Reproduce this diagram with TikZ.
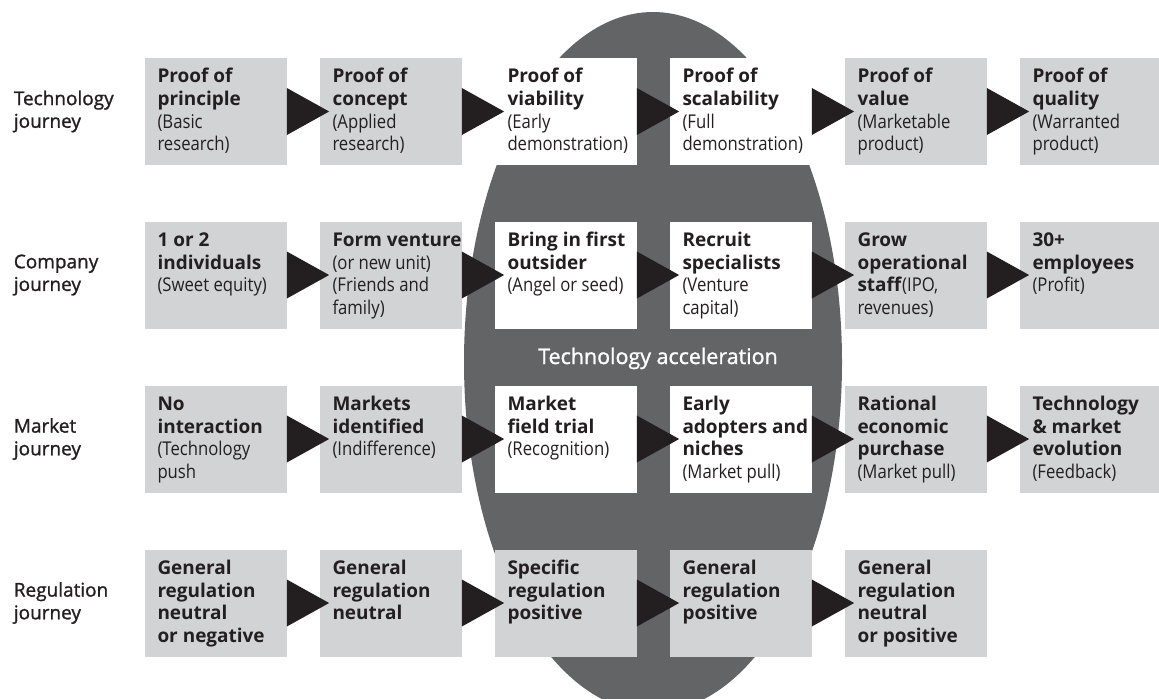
\documentclass[tikz,border=0pt]{standalone}
\usepackage{fontspec}
\setmainfont{Open Sans}
\newfontfamily\lightfont{Open Sans}[FakeStretch=0.88]
\newfontfamily\labelfont{Open Sans}[FakeBold=1.2]
\usepackage{tikz}
\usetikzlibrary{calc}
\definecolor{boxgray}{RGB}{209,211,212}
\definecolor{accelgray}{RGB}{99,100,102}
\definecolor{inkblack}{RGB}{35,31,32}
\newcommand{\lightpart}[1]{{\lightfont #1}}
\newcommand{\stagetext}[1]{\parbox[c][2.14cm][t]{2.84cm}{\fontsize{10.8pt}{12.9pt}\selectfont\raggedright\leftskip=0.26cm\rule{0pt}{14.2pt}#1}}

\begin{document}
\begin{tikzpicture}[font=\fontsize{10.8pt}{12.9pt}\selectfont,text=inkblack]
    \tikzstyle{stage}=[rectangle,fill=boxgray,inner sep=0pt]
    \tikzstyle{focus}=[stage,fill=white]
    \tikzstyle{journey}=[anchor=west,align=left,inner sep=0pt,font=\labelfont\fontsize{10.8pt}{12.9pt}\selectfont]
    \tikzstyle{tri}=[fill=inkblack]
    \useasboundingbox (0,0) rectangle (23.18,-13.96);
    % acceleration zone
    \fill[accelgray] (13.06,-7.24) ellipse [x radius=3.78,y radius=7];
    \node[text=white,anchor=base,font=\labelfont\fontsize{12.2pt}{14pt}\selectfont] (accel) at (13.16,-7.28) {Technology acceleration};
    % technology row
    \node[journey] (techlabel) at (0.27,-2.23) {Technology\\journey};
    \node[stage] (tech1) at (4.31,-2.23) {\stagetext{\textbf{Proof of\\principle}\\\lightpart{(Basic\\research)}}};
    \node[stage] (tech2) at (7.81,-2.23) {\stagetext{\textbf{Proof of\\concept}\\\lightpart{(Applied\\research)}}};
    \node[focus] (tech3) at (11.31,-2.23) {\stagetext{\textbf{Proof of\\viability}\\\lightpart{(Early\\demonstration)}}};
    \node[focus] (tech4) at (14.81,-2.23) {\stagetext{\textbf{Proof of\\scalability}\\\lightpart{(Full\\demonstration)}}};
    \node[stage] (tech5) at (18.31,-2.23) {\stagetext{\textbf{Proof of\\value}\\\lightpart{(Marketable\\product)}}};
    \node[stage] (tech6) at (21.81,-2.23) {\stagetext{\textbf{Proof of\\quality}\\\lightpart{(Warranted\\product)}}};
    % company row
    \node[journey] (complabel) at (0.27,-5.50) {Company\\journey};
    \node[stage] (comp1) at (4.31,-5.50) {\stagetext{\textbf{1 or 2\\individuals}\\\lightpart{(Sweet equity)}}};
    \node[stage] (comp2) at (7.81,-5.50) {\stagetext{\textbf{Form venture}\\\lightpart{(or new unit)\\(Friends and\\family)}}};
    \node[focus] (comp3) at (11.31,-5.50) {\stagetext{\textbf{Bring in first\\outsider}\\\lightpart{(Angel or seed)}}};
    \node[focus] (comp4) at (14.81,-5.50) {\stagetext{\textbf{Recruit\\specialists}\\\lightpart{(Venture\\capital)}}};
    \node[stage] (comp5) at (18.31,-5.50) {\stagetext{\textbf{Grow\\operational\\staff}\lightpart{(IPO,\\revenues)}}};
    \node[stage] (comp6) at (21.81,-5.50) {\stagetext{\textbf{30+\\employees}\\\lightpart{(Profit)}}};
    % market row
    \node[journey] (marklabel) at (0.27,-8.78) {Market\\journey};
    \node[stage] (mark1) at (4.31,-8.78) {\stagetext{\textbf{No\\interaction}\\\lightpart{(Technology\\push}}};
    \node[stage] (mark2) at (7.81,-8.78) {\stagetext{\textbf{Markets\\identified}\\\lightpart{(Indifference)}}};
    \node[focus] (mark3) at (11.31,-8.78) {\stagetext{\textbf{Market\\field trial}\\\lightpart{(Recognition)}}};
    \node[focus] (mark4) at (14.81,-8.78) {\stagetext{\textbf{Early\\adopters and\\niches}\\\lightpart{(Market pull)}}};
    \node[stage] (mark5) at (18.31,-8.78) {\stagetext{\textbf{Rational\\economic\\purchase}\\\lightpart{(Market pull)}}};
    \node[stage] (mark6) at (21.81,-8.78) {\stagetext{\textbf{Technology\\\& market\\evolution}\\\lightpart{(Feedback)}}};
    % regulation row
    \node[journey] (reglabel) at (0.27,-12.06) {Regulation\\journey};
    \node[stage] (reg1) at (4.31,-12.06) {\stagetext{\textbf{General\\regulation\\neutral\\or negative}}};
    \node[stage] (reg2) at (7.81,-12.06) {\stagetext{\textbf{General\\regulation\\neutral}}};
    \node[stage] (reg3) at (11.31,-12.06) {\stagetext{\textbf{Specific\\regulation\\positive}}};
    \node[stage] (reg4) at (14.81,-12.06) {\stagetext{\textbf{General\\regulation\\positive}}};
    \node[stage] (reg5) at (18.31,-12.06) {\stagetext{\textbf{General\\regulation\\neutral\\or positive}}};
    % arrows between stages
    \fill[tri] ($(tech1.east)+(0,0.47)$) -- ($(tech2.west)+(0.2,0)$) -- ($(tech1.east)+(0,-0.47)$) -- cycle;
    \fill[tri] ($(tech2.east)+(0,0.47)$) -- ($(tech3.west)+(0.2,0)$) -- ($(tech2.east)+(0,-0.47)$) -- cycle;
    \fill[tri] ($(tech3.east)+(0,0.47)$) -- ($(tech4.west)+(0.2,0)$) -- ($(tech3.east)+(0,-0.47)$) -- cycle;
    \fill[tri] ($(tech4.east)+(0,0.47)$) -- ($(tech5.west)+(0.2,0)$) -- ($(tech4.east)+(0,-0.47)$) -- cycle;
    \fill[tri] ($(tech5.east)+(0,0.47)$) -- ($(tech6.west)+(0.2,0)$) -- ($(tech5.east)+(0,-0.47)$) -- cycle;
    \fill[tri] ($(comp1.east)+(0,0.47)$) -- ($(comp2.west)+(0.2,0)$) -- ($(comp1.east)+(0,-0.47)$) -- cycle;
    \fill[tri] ($(comp2.east)+(0,0.47)$) -- ($(comp3.west)+(0.2,0)$) -- ($(comp2.east)+(0,-0.47)$) -- cycle;
    \fill[tri] ($(comp3.east)+(0,0.47)$) -- ($(comp4.west)+(0.2,0)$) -- ($(comp3.east)+(0,-0.47)$) -- cycle;
    \fill[tri] ($(comp4.east)+(0,0.47)$) -- ($(comp5.west)+(0.2,0)$) -- ($(comp4.east)+(0,-0.47)$) -- cycle;
    \fill[tri] ($(comp5.east)+(0,0.47)$) -- ($(comp6.west)+(0.2,0)$) -- ($(comp5.east)+(0,-0.47)$) -- cycle;
    \fill[tri] ($(mark1.east)+(0,0.47)$) -- ($(mark2.west)+(0.2,0)$) -- ($(mark1.east)+(0,-0.47)$) -- cycle;
    \fill[tri] ($(mark2.east)+(0,0.47)$) -- ($(mark3.west)+(0.2,0)$) -- ($(mark2.east)+(0,-0.47)$) -- cycle;
    \fill[tri] ($(mark3.east)+(0,0.47)$) -- ($(mark4.west)+(0.2,0)$) -- ($(mark3.east)+(0,-0.47)$) -- cycle;
    \fill[tri] ($(mark4.east)+(0,0.47)$) -- ($(mark5.west)+(0.2,0)$) -- ($(mark4.east)+(0,-0.47)$) -- cycle;
    \fill[tri] ($(mark5.east)+(0,0.47)$) -- ($(mark6.west)+(0.2,0)$) -- ($(mark5.east)+(0,-0.47)$) -- cycle;
    \fill[tri] ($(reg1.east)+(0,0.47)$) -- ($(reg2.west)+(0.2,0)$) -- ($(reg1.east)+(0,-0.47)$) -- cycle;
    \fill[tri] ($(reg2.east)+(0,0.47)$) -- ($(reg3.west)+(0.2,0)$) -- ($(reg2.east)+(0,-0.47)$) -- cycle;
    \fill[tri] ($(reg3.east)+(0,0.47)$) -- ($(reg4.west)+(0.2,0)$) -- ($(reg3.east)+(0,-0.47)$) -- cycle;
    \fill[tri] ($(reg4.east)+(0,0.47)$) -- ($(reg5.west)+(0.2,0)$) -- ($(reg4.east)+(0,-0.47)$) -- cycle;
\end{tikzpicture}
\end{document}
